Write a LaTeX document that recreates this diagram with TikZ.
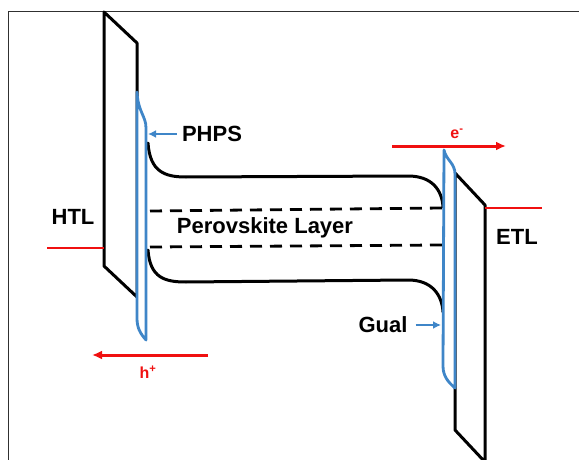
\documentclass[tikz,border=0pt]{standalone}
\usepackage{fontspec}
\setmainfont{Liberation Sans}
\usetikzlibrary{arrows.meta,positioning}
\definecolor{ifblue}{HTML}{3F86C8}
\definecolor{ifred}{HTML}{F01010}
\definecolor{ifframe}{HTML}{303030}

\begin{document}
\begin{tikzpicture}[x=1pt,y=-1pt,>=Latex]
    \tikzset{slab/.style={draw=black,line width=3pt,line join=round},
      band/.style={draw=black,line width=3pt,line cap=round},
      midline/.style={draw=black,line width=2.8pt,dash pattern=on 12pt off 8pt},
      shell/.style={draw=ifblue,line width=2.8pt,line join=round},
      level/.style={draw=ifred,line width=2.8pt},
      carrier/.style={ifred,line width=3pt,arrows={-Latex[length=10pt,width=9pt]}},
      pointer/.style={ifblue,line width=2.8pt,arrows={-Latex[length=8pt,width=8pt]}},
      lbl/.style={font=\fontsize{22}{24}\selectfont\bfseries,inner sep=0pt},
      clbl/.style={font=\fontsize{16}{18}\selectfont\bfseries,text=ifred,inner sep=0pt}}
    \useasboundingbox (0,0) rectangle (579,460);
    \draw[ifframe,line width=0.8pt] (8,460) -- (8,11) -- (579,11);
    % HTL and ETL slabs
    \draw[slab] (104,12) -- (137,43) -- (137,297) -- (104,266) -- cycle;
    \draw[slab] (455,173) -- (485,205) -- (485,462) -- (455,430) -- cycle;
    % perovskite bands
    \draw[band] (148,143) .. controls (150,172) and (165,177) .. (186,177) -- (408,176) .. controls (432,176) and (442,190) .. (443,207);
    \draw[band] (148,250) .. controls (150,278) and (165,282) .. (186,282) -- (408,280) .. controls (432,280) and (442,295) .. (443,312);
    \draw[midline] (150,211) -- (442,208);
    \draw[midline] (150,247) -- (442,245);
    % interface layers
    \draw[shell,fill=white] (137,92) .. controls (138,112) and (146,116) .. (146,128) -- (146,340) .. controls (140,333) and (137,328) .. (137,318) -- cycle;
    \draw[shell,fill=white] (444,150) .. controls (446,160) and (455,163) .. (455,174) -- (455,388) .. controls (448,382) and (443,376) .. (443,366) -- cycle;
    % labels
    \node[lbl] (perov) at (265,228) {Perovskite Layer};
    \node[lbl] (phps) at (212,134) {PHPS};
    \node[lbl] (gual) at (383,325) {Gual};
    \node[lbl] (htl) at (73,217) {HTL};
    \node[lbl] (etl) at (517,237) {ETL};
    \node[clbl] (elec) at (457,134) {e\textsuperscript{-}};
    \node[clbl] (hole) at (148,372) {h\textsuperscript{+}};
    \coordinate (phpsTip) at (148,134);
    \coordinate (gualTip) at (441,325);
    \coordinate (eFrom) at (392,146);
    \coordinate (eTo) at (506,146);
    \coordinate (hFrom) at (208,355);
    \coordinate (hTo) at (92,355);
    \coordinate (htlEdge) at (104,248);
    \coordinate (htlOut) at (47,248);
    \coordinate (etlEdge) at (485,208);
    \coordinate (etlOut) at (542,208);
    \draw[pointer] (phps.west) ++(-5,0) -- (phpsTip);
    \draw[pointer] (gual.east) ++(8,0) -- (gualTip);
    \draw[carrier] (eFrom) -- (eTo);
    \draw[carrier] (hFrom) -- (hTo);
    \draw[level] (htlOut) -- (htlEdge);
    \draw[level] (etlEdge) -- (etlOut);
\end{tikzpicture}
\end{document}
